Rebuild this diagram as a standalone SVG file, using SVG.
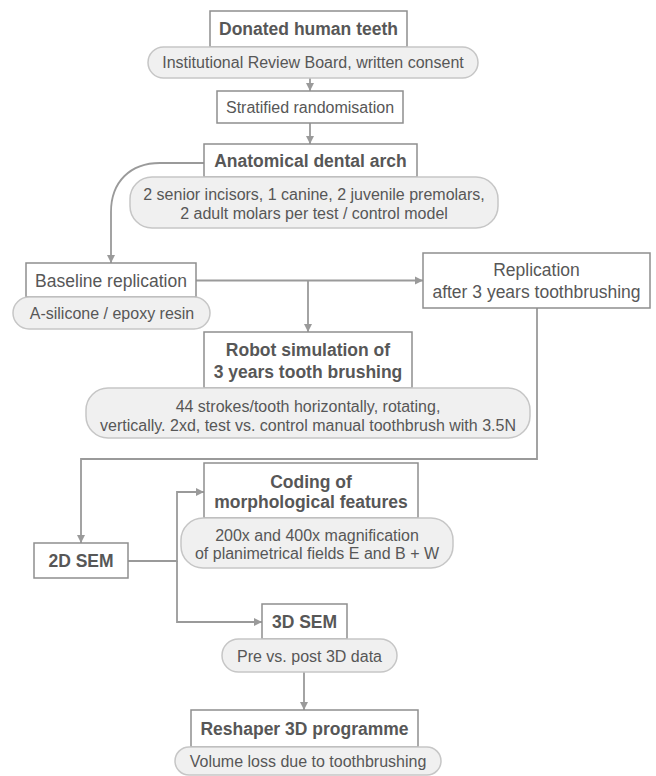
<svg xmlns="http://www.w3.org/2000/svg" width="656" height="776" viewBox="0 0 656 776">
<defs>
<style>
.box{fill:#fff;stroke:#8e8e8e;stroke-width:1.5}
.pill{fill:#f0f0f0;stroke:#c6c6c6;stroke-width:1.5}
.t{font-family:"Liberation Sans",Arial,sans-serif;fill:#575757;text-anchor:middle}
.b{font-size:17.5px;font-weight:bold}
.r{font-size:17.5px}
.s{font-size:16px}
.c{fill:none;stroke:#9a9a9a;stroke-width:1.8}
</style>
<marker id="ah" markerUnits="userSpaceOnUse" markerWidth="10" markerHeight="10" viewBox="0 0 10 10" refX="9" refY="5" orient="auto">
<path d="M1,1 L9,5 L1,9 Z" fill="#9a9a9a"/>
</marker>
</defs>
<rect width="656" height="776" fill="#fff"/>
<g id="connectors">
<path class="c" d="M310,78 V91" marker-end="url(#ah)"/>
<path class="c" d="M310,123 V144" marker-end="url(#ah)"/>
<path class="c" d="M204,163 H160 C130,163 111,182 111,212 V263" marker-end="url(#ah)"/>
<path class="c" d="M196,280.5 H423" marker-end="url(#ah)"/>
<path class="c" d="M308,280.5 V332" marker-end="url(#ah)"/>
<path class="c" d="M537,308 V459 H81 V543" marker-end="url(#ah)"/>
<path class="c" d="M128,561 H177 V492 H204" marker-end="url(#ah)"/>
<path class="c" d="M177,561 V622 H262" marker-end="url(#ah)"/>
<path class="c" d="M304,672 V710" marker-end="url(#ah)"/>
</g>
<g id="donated">
<rect class="box" x="210" y="11" width="197" height="36"/>
<text class="t b" x="308.5" y="35">Donated human teeth</text>
</g>
<g id="irb">
<rect class="pill" x="148" y="47" width="330" height="31" rx="15.5"/>
<text class="t s" x="313" y="68">Institutional Review Board, written consent</text>
</g>
<g id="stratified">
<rect class="box" x="217" y="91" width="186" height="32"/>
<text class="t s" x="310" y="112.5">Stratified randomisation</text>
</g>
<g id="anatomical">
<rect class="box" x="204" y="144" width="213" height="33"/>
<text class="t b" x="310.5" y="166.5">Anatomical dental arch</text>
</g>
<g id="anatomical-note">
<rect class="pill" x="130" y="177" width="368" height="51" rx="22"/>
<text class="t s" x="314" y="199.5">2 senior incisors, 1 canine, 2 juvenile premolars,</text>
<text class="t s" x="314" y="218.5">2 adult molars per test / control model</text>
</g>
<g id="baseline">
<rect class="box" x="26" y="263" width="170" height="34"/>
<text class="t r" x="111" y="286.5">Baseline replication</text>
</g>
<g id="baseline-note">
<rect class="pill" x="13" y="297" width="197" height="32" rx="16"/>
<text class="t s" x="112" y="318.5">A-silicone / epoxy resin</text>
</g>
<g id="replication">
<rect class="box" x="423" y="253" width="227" height="55"/>
<text class="t r" x="536.5" y="276">Replication</text>
<text class="t r" x="536.5" y="298">after 3 years toothbrushing</text>
</g>
<g id="robot">
<rect class="box" x="204" y="332" width="208" height="56"/>
<text class="t b" x="308" y="356">Robot simulation of</text>
<text class="t b" x="308" y="378">3 years tooth brushing</text>
</g>
<g id="robot-note">
<rect class="pill" x="86" y="388" width="444" height="50" rx="22"/>
<text class="t s" x="308" y="411.5">44 strokes/tooth horizontally, rotating,</text>
<text class="t s" x="308" y="430.5">vertically. 2xd, test vs. control manual toothbrush with 3.5N</text>
</g>
<g id="coding">
<rect class="box" x="204" y="463" width="214" height="55"/>
<text class="t b" x="311" y="488">Coding of</text>
<text class="t b" x="311" y="508">morphological features</text>
</g>
<g id="coding-note">
<rect class="pill" x="181" y="518" width="272" height="50" rx="22"/>
<text class="t s" x="317" y="540.5">200x and 400x magnification</text>
<text class="t s" x="317" y="558.5">of planimetrical fields E and B + W</text>
</g>
<g id="sem2d">
<rect class="box" x="34" y="543" width="94" height="35"/>
<text class="t b" x="81" y="567">2D SEM</text>
</g>
<g id="sem3d">
<rect class="box" x="262" y="604" width="85" height="35"/>
<text class="t b" x="304.5" y="628">3D SEM</text>
</g>
<g id="sem3d-note">
<rect class="pill" x="222" y="639" width="175" height="33" rx="16.5"/>
<text class="t s" x="309.5" y="661.5">Pre vs. post 3D data</text>
</g>
<g id="reshaper">
<rect class="box" x="191" y="710" width="227" height="37"/>
<text class="t b" x="304.5" y="735">Reshaper 3D programme</text>
</g>
<g id="reshaper-note">
<rect class="pill" x="175" y="747" width="266" height="28" rx="14"/>
<text class="t s" x="308" y="767">Volume loss due to toothbrushing</text>
</g>
</svg>
